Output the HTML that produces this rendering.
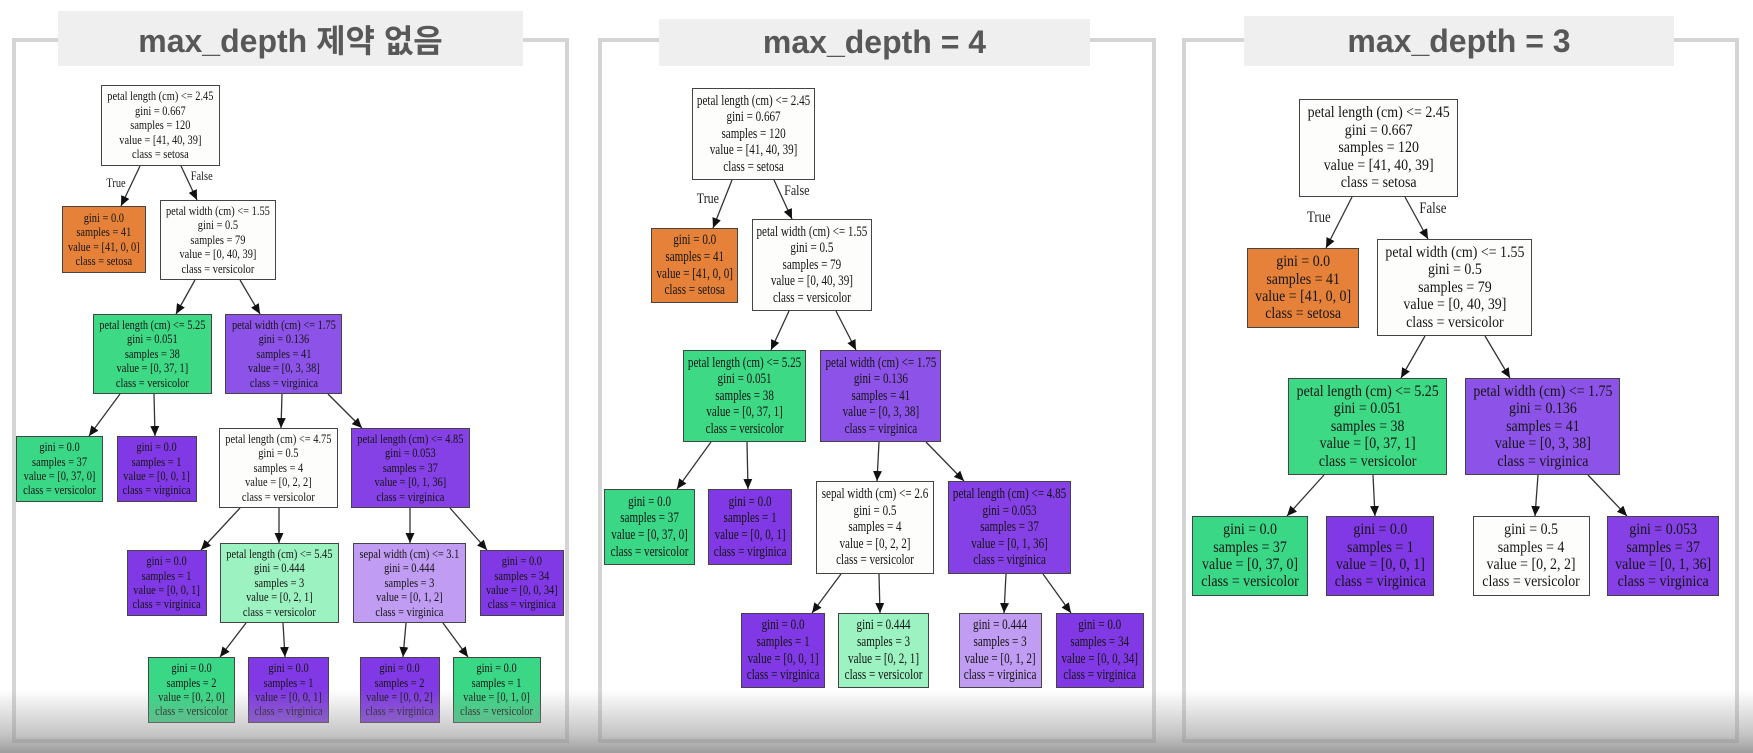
<!DOCTYPE html>
<html><head><meta charset="utf-8"><style>
body{margin:0;width:1753px;height:753px;overflow:hidden;background:#fff;position:relative;font-family:"Liberation Serif",serif}
.fr{position:absolute;border:4px solid #d4d4d4;box-sizing:border-box}
.tt{position:absolute;background:#efefef;display:flex;align-items:center;justify-content:center;font-family:"Liberation Sans","Noto Sans CJK KR",sans-serif;font-weight:bold;font-size:32px;color:#585858}
.n{position:absolute;border:1.4px solid #444;box-sizing:border-box;display:flex;align-items:center;justify-content:center;color:#151515;white-space:nowrap;text-align:center}
.n span{display:inline-block;transform-origin:center}
.a .n{font-size:13px;line-height:14.4px}.a .n span{transform:scaleX(.8)}
.b .n{font-size:15px;line-height:16.6px}.b .n span{transform:scaleX(.74)}
.c .n{font-size:16px;line-height:17.4px}.c .n span{transform:scaleX(.87)}
.o{background:#e58139}.g{background:#3ad886}.v{background:#8139e5}.w{background:#fdfdfc}
.lg{background:#9cf2c0}.lv{background:#c09cf2}.v1{background:#8d53e8}.v2{background:#8540e6}.g1{background:#3ed985}
.lb{position:absolute;color:#222;transform:scaleX(.8);white-space:nowrap}
</style></head><body>
<div class="fr" style="left:12px;top:38px;width:557px;height:705px"></div>
<div class="fr" style="left:598px;top:38px;width:558px;height:705px"></div>
<div class="fr" style="left:1182px;top:38px;width:557px;height:705px"></div>
<div class="tt" style="left:58px;top:11px;width:465px;height:55px">max_depth 제약 없음</div>
<div class="tt" style="left:659px;top:19px;width:431px;height:47px">max_depth = 4</div>
<div class="tt" style="left:1244px;top:16px;width:430px;height:50px">max_depth = 3</div>

<svg style="position:absolute;left:0;top:0" width="1753" height="753">
<defs><marker id="m" markerUnits="userSpaceOnUse" markerWidth="10" markerHeight="9" refX="10" refY="4.5" orient="auto"><path d="M0,0 L10,4.5 L0,9 z" fill="#111"/></marker></defs>
<g stroke="#333" stroke-width="1.3" marker-end="url(#m)">
<line x1="140" y1="166" x2="121" y2="206"/><line x1="181" y1="166" x2="197" y2="200"/>
<line x1="195" y1="280" x2="176" y2="314"/><line x1="240" y1="280" x2="260" y2="314"/>
<line x1="120" y1="394" x2="89" y2="436"/><line x1="154" y1="394" x2="155" y2="436"/>
<line x1="282" y1="394" x2="281" y2="428"/><line x1="328" y1="394" x2="362" y2="428"/>
<line x1="240" y1="508" x2="201" y2="550"/><line x1="279" y1="508" x2="279" y2="543"/>
<line x1="410" y1="508" x2="410" y2="543"/><line x1="450" y1="508" x2="487" y2="550"/>
<line x1="246" y1="623" x2="220" y2="657"/><line x1="283" y1="623" x2="285" y2="657"/>
<line x1="406" y1="623" x2="403" y2="657"/><line x1="443" y1="623" x2="468" y2="657"/>

<line x1="732" y1="180" x2="713" y2="228"/><line x1="774" y1="180" x2="792" y2="219"/>
<line x1="789" y1="311" x2="771" y2="350"/><line x1="836" y1="311" x2="856" y2="350"/>
<line x1="711" y1="442" x2="677" y2="489"/><line x1="747" y1="442" x2="748" y2="489"/>
<line x1="879" y1="442" x2="877" y2="481"/><line x1="926" y1="442" x2="964" y2="481"/>
<line x1="841" y1="574" x2="812" y2="613"/><line x1="879" y1="574" x2="880" y2="613"/>
<line x1="1006" y1="574" x2="1004" y2="613"/><line x1="1043" y1="574" x2="1071" y2="613"/>

<line x1="1352" y1="197" x2="1326" y2="248"/><line x1="1405" y1="197" x2="1428" y2="239"/>
<line x1="1425" y1="336" x2="1401" y2="378"/><line x1="1485" y1="336" x2="1510" y2="378"/>
<line x1="1324" y1="475" x2="1287" y2="516"/><line x1="1373" y1="475" x2="1375" y2="516"/>
<line x1="1538" y1="475" x2="1535" y2="516"/><line x1="1588" y1="475" x2="1627" y2="516"/>
</g></svg>

<div class="lb" style="left:104px;top:175px;font-size:13px">True</div>
<div class="lb" style="left:188px;top:168px;font-size:13px">False</div>
<div class="lb" style="left:694px;top:191px;font-size:15px">True</div>
<div class="lb" style="left:781px;top:183px;font-size:15px">False</div>
<div class="lb" style="left:1304px;top:209px;font-size:16px">True</div>
<div class="lb" style="left:1416px;top:200px;font-size:16px">False</div>

<div class="a">
<div class="n w" style="left:101px;top:85px;width:119px;height:81px"><span>petal length (cm) &lt;= 2.45<br>gini = 0.667<br>samples = 120<br>value = [41, 40, 39]<br>class = setosa</span></div>
<div class="n o" style="left:62px;top:206px;width:84px;height:67px"><span>gini = 0.0<br>samples = 41<br>value = [41, 0, 0]<br>class = setosa</span></div>
<div class="n w" style="left:160px;top:200px;width:116px;height:80px"><span>petal width (cm) &lt;= 1.55<br>gini = 0.5<br>samples = 79<br>value = [0, 40, 39]<br>class = versicolor</span></div>
<div class="n g1" style="left:93px;top:314px;width:119px;height:80px"><span>petal length (cm) &lt;= 5.25<br>gini = 0.051<br>samples = 38<br>value = [0, 37, 1]<br>class = versicolor</span></div>
<div class="n v1" style="left:225px;top:314px;width:117px;height:80px"><span>petal width (cm) &lt;= 1.75<br>gini = 0.136<br>samples = 41<br>value = [0, 3, 38]<br>class = virginica</span></div>
<div class="n g" style="left:16px;top:436px;width:87px;height:66px"><span>gini = 0.0<br>samples = 37<br>value = [0, 37, 0]<br>class = versicolor</span></div>
<div class="n v" style="left:117px;top:436px;width:80px;height:66px"><span>gini = 0.0<br>samples = 1<br>value = [0, 0, 1]<br>class = virginica</span></div>
<div class="n w" style="left:219px;top:428px;width:119px;height:80px"><span>petal length (cm) &lt;= 4.75<br>gini = 0.5<br>samples = 4<br>value = [0, 2, 2]<br>class = versicolor</span></div>
<div class="n v2" style="left:351px;top:428px;width:119px;height:80px"><span>petal length (cm) &lt;= 4.85<br>gini = 0.053<br>samples = 37<br>value = [0, 1, 36]<br>class = virginica</span></div>
<div class="n v" style="left:127px;top:550px;width:80px;height:66px"><span>gini = 0.0<br>samples = 1<br>value = [0, 0, 1]<br>class = virginica</span></div>
<div class="n lg" style="left:220px;top:543px;width:119px;height:80px"><span>petal length (cm) &lt;= 5.45<br>gini = 0.444<br>samples = 3<br>value = [0, 2, 1]<br>class = versicolor</span></div>
<div class="n lv" style="left:353px;top:543px;width:113px;height:80px"><span>sepal width (cm) &lt;= 3.1<br>gini = 0.444<br>samples = 3<br>value = [0, 1, 2]<br>class = virginica</span></div>
<div class="n v" style="left:480px;top:550px;width:84px;height:66px"><span>gini = 0.0<br>samples = 34<br>value = [0, 0, 34]<br>class = virginica</span></div>
<div class="n g" style="left:148px;top:657px;width:87px;height:66px"><span>gini = 0.0<br>samples = 2<br>value = [0, 2, 0]<br>class = versicolor</span></div>
<div class="n v" style="left:248px;top:657px;width:81px;height:66px"><span>gini = 0.0<br>samples = 1<br>value = [0, 0, 1]<br>class = virginica</span></div>
<div class="n v" style="left:360px;top:657px;width:80px;height:66px"><span>gini = 0.0<br>samples = 2<br>value = [0, 0, 2]<br>class = virginica</span></div>
<div class="n g" style="left:453px;top:657px;width:88px;height:66px"><span>gini = 0.0<br>samples = 1<br>value = [0, 1, 0]<br>class = versicolor</span></div>
</div>

<div class="b">
<div class="n w" style="left:692px;top:88px;width:123px;height:92px"><span>petal length (cm) &lt;= 2.45<br>gini = 0.667<br>samples = 120<br>value = [41, 40, 39]<br>class = setosa</span></div>
<div class="n o" style="left:651px;top:228px;width:87px;height:75px"><span>gini = 0.0<br>samples = 41<br>value = [41, 0, 0]<br>class = setosa</span></div>
<div class="n w" style="left:752px;top:219px;width:120px;height:92px"><span>petal width (cm) &lt;= 1.55<br>gini = 0.5<br>samples = 79<br>value = [0, 40, 39]<br>class = versicolor</span></div>
<div class="n g1" style="left:683px;top:350px;width:123px;height:92px"><span>petal length (cm) &lt;= 5.25<br>gini = 0.051<br>samples = 38<br>value = [0, 37, 1]<br>class = versicolor</span></div>
<div class="n v1" style="left:820px;top:350px;width:121px;height:92px"><span>petal width (cm) &lt;= 1.75<br>gini = 0.136<br>samples = 41<br>value = [0, 3, 38]<br>class = virginica</span></div>
<div class="n g" style="left:604px;top:489px;width:91px;height:76px"><span>gini = 0.0<br>samples = 37<br>value = [0, 37, 0]<br>class = versicolor</span></div>
<div class="n v" style="left:708px;top:489px;width:84px;height:76px"><span>gini = 0.0<br>samples = 1<br>value = [0, 0, 1]<br>class = virginica</span></div>
<div class="n w" style="left:816px;top:481px;width:118px;height:93px"><span>sepal width (cm) &lt;= 2.6<br>gini = 0.5<br>samples = 4<br>value = [0, 2, 2]<br>class = versicolor</span></div>
<div class="n v2" style="left:948px;top:481px;width:123px;height:93px"><span>petal length (cm) &lt;= 4.85<br>gini = 0.053<br>samples = 37<br>value = [0, 1, 36]<br>class = virginica</span></div>
<div class="n v" style="left:741px;top:613px;width:84px;height:75px"><span>gini = 0.0<br>samples = 1<br>value = [0, 0, 1]<br>class = virginica</span></div>
<div class="n lg" style="left:838px;top:613px;width:91px;height:75px"><span>gini = 0.444<br>samples = 3<br>value = [0, 2, 1]<br>class = versicolor</span></div>
<div class="n lv" style="left:959px;top:613px;width:83px;height:75px"><span>gini = 0.444<br>samples = 3<br>value = [0, 1, 2]<br>class = virginica</span></div>
<div class="n v" style="left:1056px;top:613px;width:88px;height:75px"><span>gini = 0.0<br>samples = 34<br>value = [0, 0, 34]<br>class = virginica</span></div>
</div>

<div class="c">
<div class="n w" style="left:1299px;top:99px;width:159px;height:98px"><span>petal length (cm) &lt;= 2.45<br>gini = 0.667<br>samples = 120<br>value = [41, 40, 39]<br>class = setosa</span></div>
<div class="n o" style="left:1247px;top:248px;width:112px;height:80px"><span>gini = 0.0<br>samples = 41<br>value = [41, 0, 0]<br>class = setosa</span></div>
<div class="n w" style="left:1377px;top:239px;width:155px;height:97px"><span>petal width (cm) &lt;= 1.55<br>gini = 0.5<br>samples = 79<br>value = [0, 40, 39]<br>class = versicolor</span></div>
<div class="n g1" style="left:1288px;top:378px;width:159px;height:97px"><span>petal length (cm) &lt;= 5.25<br>gini = 0.051<br>samples = 38<br>value = [0, 37, 1]<br>class = versicolor</span></div>
<div class="n v1" style="left:1465px;top:378px;width:155px;height:97px"><span>petal width (cm) &lt;= 1.75<br>gini = 0.136<br>samples = 41<br>value = [0, 3, 38]<br>class = virginica</span></div>
<div class="n g" style="left:1192px;top:516px;width:116px;height:80px"><span>gini = 0.0<br>samples = 37<br>value = [0, 37, 0]<br>class = versicolor</span></div>
<div class="n v" style="left:1326px;top:516px;width:108px;height:80px"><span>gini = 0.0<br>samples = 1<br>value = [0, 0, 1]<br>class = virginica</span></div>
<div class="n w" style="left:1473px;top:516px;width:117px;height:80px"><span>gini = 0.5<br>samples = 4<br>value = [0, 2, 2]<br>class = versicolor</span></div>
<div class="n v2" style="left:1607px;top:516px;width:112px;height:80px"><span>gini = 0.053<br>samples = 37<br>value = [0, 1, 36]<br>class = virginica</span></div>
</div>

<div style="position:absolute;left:0;top:690px;width:1753px;height:63px;background:linear-gradient(to bottom,rgba(150,150,150,0),rgba(150,150,150,.55) 70%,rgba(140,140,140,.85))"></div>
</body></html>
